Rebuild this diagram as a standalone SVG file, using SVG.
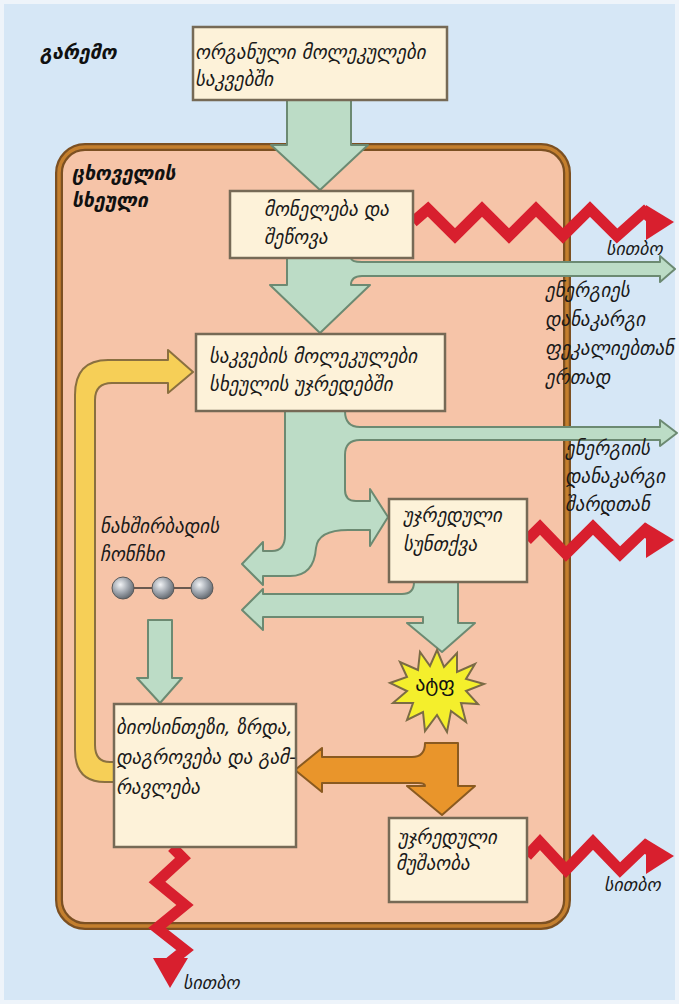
<svg xmlns="http://www.w3.org/2000/svg" width="679" height="1004" viewBox="0 0 679 1004">
  <style>
    .t { font-family: "DejaVu Sans", "Noto Sans", sans-serif; font-style: italic; font-size: 19px; fill: #1a1a1a; }
    .tb { font-family: "DejaVu Sans", "Noto Sans", sans-serif; font-style: italic; font-weight: bold; font-size: 19.5px; fill: #111; }
    .heatlabel { font-size: 18px; }
    .box { fill: #fdf2d9; stroke: #766a56; stroke-width: 2.5; }
    .green { fill: #bcdcc6; stroke: #6c8a72; stroke-width: 2; stroke-linejoin: round; }
    .heat { fill: none; stroke: #d81f2e; stroke-width: 11; stroke-linejoin: miter; stroke-miterlimit: 6; }
    .heathead { fill: #d81f2e; }
  </style>
  <defs>
    <radialGradient id="ball" cx="0.38" cy="0.35" r="0.7">
      <stop offset="0" stop-color="#f2f4f6"/>
      <stop offset="0.5" stop-color="#a4aab2"/>
      <stop offset="1" stop-color="#5d636a"/>
    </radialGradient>
  </defs>

  <!-- environment -->
  <rect x="0" y="0" width="679" height="1004" fill="#eef4fa"/>
  <rect x="4" y="4" width="671" height="996" fill="#d6e7f6"/>

  <!-- animal body -->
  <g id="body">
    <rect x="59" y="147" width="508" height="779" rx="26" fill="#f6c4a8" stroke="#7c5022" stroke-width="8"/>
    <rect x="59" y="147" width="508" height="779" rx="26" fill="none" stroke="#c47f2e" stroke-width="3.5"/>
  </g>

  <text class="tb" x="40" y="59">გარემო</text>
  <text class="tb" x="72" y="180">ცხოველის</text>
  <text class="tb" x="72" y="207">სხეული</text>

  <!-- connectors -->
  <g id="connectors">
    <!-- food intake -->
    <path class="green" d="M287 100 L351 100 L351 145 L368 145 L320 190 L271 145 L287 145 Z"/>
    <!-- digestion to cells, with loss in feces -->
    <path class="green" d="M287 258 L351 258 Q351 262 362 262 L660 262 L660 256 L675 269 L660 282 L660 276 L362 276 Q351 276 351 285 L370 285 L320 333 L270 285 L287 285 Z"/>
    <!-- cells: split to respiration, carbon skeletons, loss in urine -->
    <path class="green" d="M285 411 L345 411 Q345 427 360 427 L660 427 L660 420 L677 433 L660 446 L660 440 L360 440 Q345 440 345 455 L345 490 Q345 501 356 501 L370 501 L370 489 L388 517 L370 546 L370 530 L348 530 Q318 530 316 548 Q314 576 290 576 L263 576 L263 585 L242 564 L263 542 L263 551 L272 551 Q285 551 285 535 Z"/>
    <!-- respiration: to carbon skeletons and ATP -->
    <path class="green" d="M458 582 L458 623 L475 623 L442 652 L407 623 L423 623 L423 617 L263 617 L263 630 L242 610 L263 589 L263 594 L402 594 Q414 594 414 582 Z"/>
    <!-- carbon skeletons to biosynthesis -->
    <path class="green" d="M148 620 L172 620 L172 678 L182 678 L160 703 L137 678 L148 678 Z"/>
    <!-- recycling -->
    <path d="M115 762 L110 762 Q95 762 95 745 L95 400 Q95 383 112 383 L168 383 L168 393 L193 372 L168 350 L168 360 L108 360 Q75 360 75 395 L75 750 Q75 782 105 782 L115 782 Z" fill="#f6cf57" stroke="#8a7040" stroke-width="2" stroke-linejoin="round"/>
    <!-- ATP to biosynthesis and work -->
    <path d="M425 743 L458 743 L458 786 L475 786 L442 815 L407 786 L425 786 Q425 783 418 783 L322 783 L322 792 L295 770 L322 748 L322 757 L412 757 Q425 757 425 743 Z" fill="#e9952b" stroke="#8a5a20" stroke-width="2" stroke-linejoin="round"/>

    <!-- heat -->
    <polyline class="heat" points="413,222 428,209 455,236 482,209 509,236 536,209 563,236 590,209 617,236 644,212 655,222"/>
    <polygon class="heathead" points="646,205 674,222 646,240"/>
    <polyline class="heat" points="527,540 540,527 566,554 593,527 620,554 645,530 655,540"/>
    <polygon class="heathead" points="646,523 674,540 646,558"/>
    <polyline class="heat" points="527,856 540,842 566,870 593,842 620,870 645,846 655,856"/>
    <polygon class="heathead" points="646,839 674,856 646,874"/>
    <polyline class="heat" points="172,847 183,858 157,882 185,905 157,928 185,950 170,962"/>
    <polygon class="heathead" points="153,958 188,958 170,988"/>
  </g>

  <text class="t heatlabel" x="606" y="255">სითბო</text>
  <text class="t heatlabel" x="604" y="891">სითბო</text>
  <text class="t heatlabel" x="183" y="989">სითბო</text>

  <text class="t" x="545" y="297">ენერგიეს</text>
  <text class="t" x="545" y="326">დანაკარგი</text>
  <text class="t" x="545" y="355">ფეკალიებთან</text>
  <text class="t" x="545" y="384">ერთად</text>

  <text class="t" x="565" y="455">ენერგიის</text>
  <text class="t" x="565" y="483">დანაკარგი</text>
  <text class="t" x="565" y="511">შარდთან</text>

  <!-- nodes -->
  <g id="food">
    <rect class="box" x="193" y="27" width="254" height="73"/>
    <text class="t" x="195" y="59">ორგანული მოლეკულები</text>
    <text class="t" x="195" y="86">საკვებში</text>
  </g>

  <g id="digestion">
    <rect class="box" x="230" y="191" width="183" height="67"/>
    <text class="t" x="264" y="216">მონელება და</text>
    <text class="t" x="264" y="244">შეწოვა</text>
  </g>

  <g id="cells">
    <rect class="box" x="196" y="334" width="249" height="77"/>
    <text class="t" x="209" y="363">საკვების მოლეკულები</text>
    <text class="t" x="209" y="391">სხეულის უჯრედებში</text>
  </g>

  <g id="respiration">
    <rect class="box" x="389" y="499" width="138" height="83"/>
    <text class="t" x="403" y="522">უჯრედული</text>
    <text class="t" x="403" y="551">სუნთქვა</text>
  </g>

  <g id="skeleton">
    <text class="t" x="100" y="533">ნახშირბადის</text>
    <text class="t" x="100" y="561">ჩონჩხი</text>
    <line x1="123" y1="588" x2="202" y2="588" stroke="#6a5a50" stroke-width="2"/>
    <circle cx="123" cy="588" r="11" fill="url(#ball)" stroke="#5a5a5a" stroke-width="1"/>
    <circle cx="163" cy="588" r="11" fill="url(#ball)" stroke="#5a5a5a" stroke-width="1"/>
    <circle cx="202" cy="588" r="11" fill="url(#ball)" stroke="#5a5a5a" stroke-width="1"/>
  </g>

  <g id="atp">
    <polygon points="437,650 444,667 457,653 457,672 475,664 466,679 484,684 466,691 478,704 461,703 466,722 451,711 447,732 437,715 425,731 423,712 407,720 413,703 393,703 407,691 390,683 407,677 400,662 418,670 420,652 430,666" fill="#f4ef2c" stroke="#7b6b45" stroke-width="2" stroke-linejoin="miter"/>
    <text x="435" y="691" text-anchor="middle" font-family="DejaVu Sans, Noto Sans, sans-serif" font-size="20" fill="#111">ატფ</text>
  </g>

  <g id="biosynthesis">
    <rect class="box" x="114" y="704" width="182" height="143"/>
    <text class="t" x="116" y="734">ბიოსინთეზი, ზრდა,</text>
    <text class="t" x="116" y="764">დაგროვება და გამ-</text>
    <text class="t" x="116" y="794">რავლება</text>
  </g>

  <g id="work">
    <rect class="box" x="389" y="818" width="138" height="84"/>
    <text class="t" x="398" y="844">უჯრედული</text>
    <text class="t" x="396" y="870">მუშაობა</text>
  </g>
</svg>
